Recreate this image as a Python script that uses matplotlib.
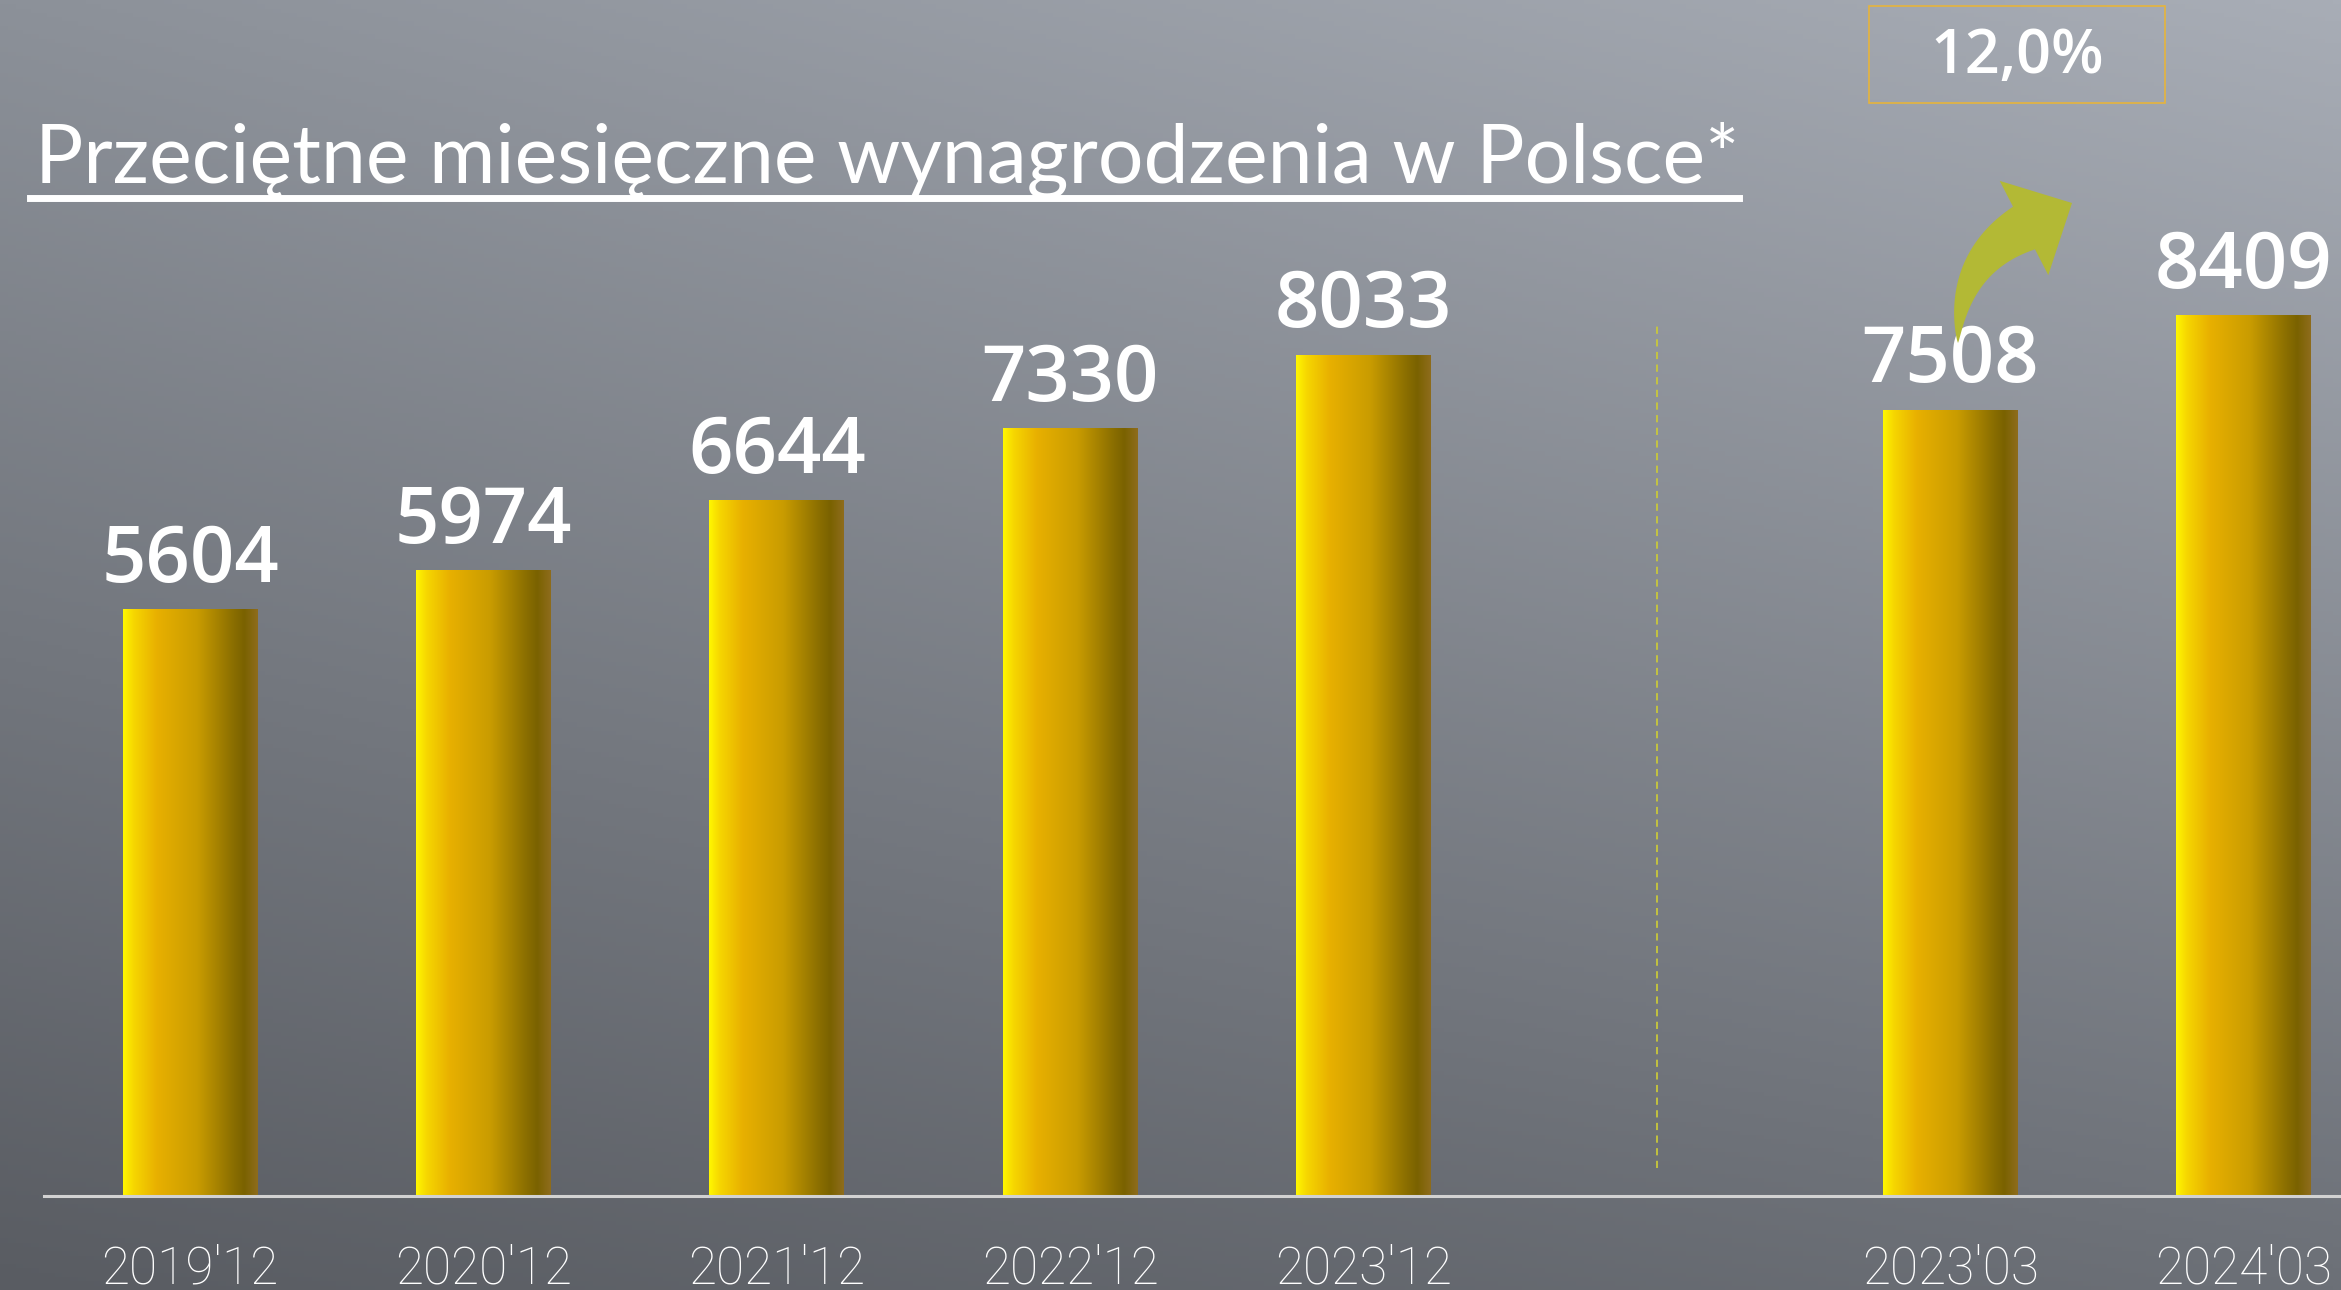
# Average monthly wages in Poland - gradient bar chart on grey background

import numpy as np
import matplotlib.pyplot as plt
from matplotlib.colors import LinearSegmentedColormap, to_rgb
from matplotlib.patches import Rectangle, Polygon
from matplotlib.lines import Line2D

title = "Przeciętne miesięczne wynagrodzenia w Polsce*"
categories = ["2019'12", "2020'12", "2021'12", "2022'12", "2023'12", "2023'03", "2024'03"]
values = [5604, 5974, 6644, 7330, 8033, 7508, 8409]
positions = [0, 1, 2, 3, 4, 6, 7]
growth_label = "12,0%"

W, H = 2341, 1290
fig = plt.figure(figsize=(W / 100, H / 100), dpi=100)

# background: grey, lighter at top right, darker at bottom left
bg = fig.add_axes([0, 0, 1, 1])
bg.set_axis_off()
yy, xx = np.mgrid[0:1:300j, 0:1:300j]
tl = np.array(to_rgb("#8C9199"))
tr = np.array(to_rgb("#A8ADB6"))
bl = np.array(to_rgb("#595C62"))
br = np.array(to_rgb("#6C7077"))
img = ((1 - xx) * (1 - yy))[..., None] * tl + (xx * (1 - yy))[..., None] * tr \
    + ((1 - xx) * yy)[..., None] * bl + (xx * yy)[..., None] * br
bg.imshow(img, extent=[0, 1, 0, 1], aspect="auto", origin="upper")
bg.set_xlim(0, 1)
bg.set_ylim(0, 1)

ax = fig.add_axes([0.019, 0.0729, 0.981, 0.9271])
ax.patch.set_alpha(0)

bar_cmap = LinearSegmentedColormap.from_list(
    "gold",
    [(0.0, "#FFF700"), (0.08, "#F6D600"), (0.25, "#E8B000"), (0.55, "#C99C00"),
     (0.82, "#8A6E00"), (0.9, "#7A6200"), (1.0, "#8E6C1C")])
grad = np.linspace(0, 1, 256).reshape(1, -1)

bars = ax.bar(positions, values, width=0.46, color="none", edgecolor="none")
for b in bars:
    ax.imshow(grad, cmap=bar_cmap, aspect="auto", zorder=2,
              extent=[b.get_x(), b.get_x() + b.get_width(), 0, b.get_height()])

for p, v in zip(positions, values):
    ax.annotate(f"{v}", (p, v), xytext=(0, 20), textcoords="offset points",
                ha="center", va="baseline", fontsize=56, fontweight="semibold",
                color="white", family="Open Sans", zorder=4)

# dashed separator between yearly and March comparison
ax.vlines(5, 270, 8350, colors="#C9C83A", linestyles=(0, (4, 3)), lw=1.3)

ax.set_xlim(-0.496, 7.331)
ax.set_ylim(0, 11427)
ax.set_xticks(positions)
ax.set_xticklabels(categories, family="Roboto", fontweight="light", fontsize=37, color="white")
ax.tick_params(axis="x", length=0, pad=35)
ax.set_yticks([])
for s in ["top", "left", "right"]:
    ax.spines[s].set_visible(False)
ax.spines["bottom"].set_color("#D2D2D2")
ax.spines["bottom"].set_linewidth(2.2)

# curved growth arrow (tapered shaft), built in pixel space
p0 = np.array([1958.0, 343.0])
p1 = np.array([1958.0, 262.0])
p2 = np.array([2024.0, 228.0])
tip = np.array([2072.0, 203.0])
t = np.linspace(0, 1, 60)[:, None]
curve = (1 - t) ** 2 * p0 + 2 * (1 - t) * t * p1 + t ** 2 * p2
deriv = 2 * (1 - t) * (p1 - p0) + 2 * t * (p2 - p1)
deriv /= np.linalg.norm(deriv, axis=1, keepdims=True)
normal = np.column_stack([-deriv[:, 1], deriv[:, 0]])
half = 24 * t ** 0.8
left = curve + normal * half
right = curve - normal * half
head_l = p2 + normal[-1] * 53
head_r = p2 - normal[-1] * 53
pts = np.vstack([left, head_l, tip, head_r, right[::-1]])
pts = np.column_stack([pts[:, 0] / W, 1 - pts[:, 1] / H])
fig.add_artist(Polygon(pts, closed=True, transform=fig.transFigure,
                       facecolor="#B3B935", edgecolor="none", zorder=5))

# title with underline
ttl = fig.text(0.015, 0.858, title, fontsize=58, color="white", family="Lato", va="baseline")
fig.canvas.draw()
bb = ttl.get_window_extent().transformed(fig.transFigure.inverted())
fig.add_artist(Line2D([0.0128, bb.x1], [0.8465, 0.8465], color="white", lw=5,
                      transform=fig.transFigure))

# growth box
fig.add_artist(Rectangle((0.7985, 0.920), 0.1262, 0.0754, transform=fig.transFigure,
                         fill=False, edgecolor="#E6B43C", lw=1.2))
fig.text(0.8615, 0.956, growth_label, fontsize=44, fontweight="semibold", color="white",
         family="Open Sans", ha="center", va="center")

fig.savefig("out.png", dpi=100)
